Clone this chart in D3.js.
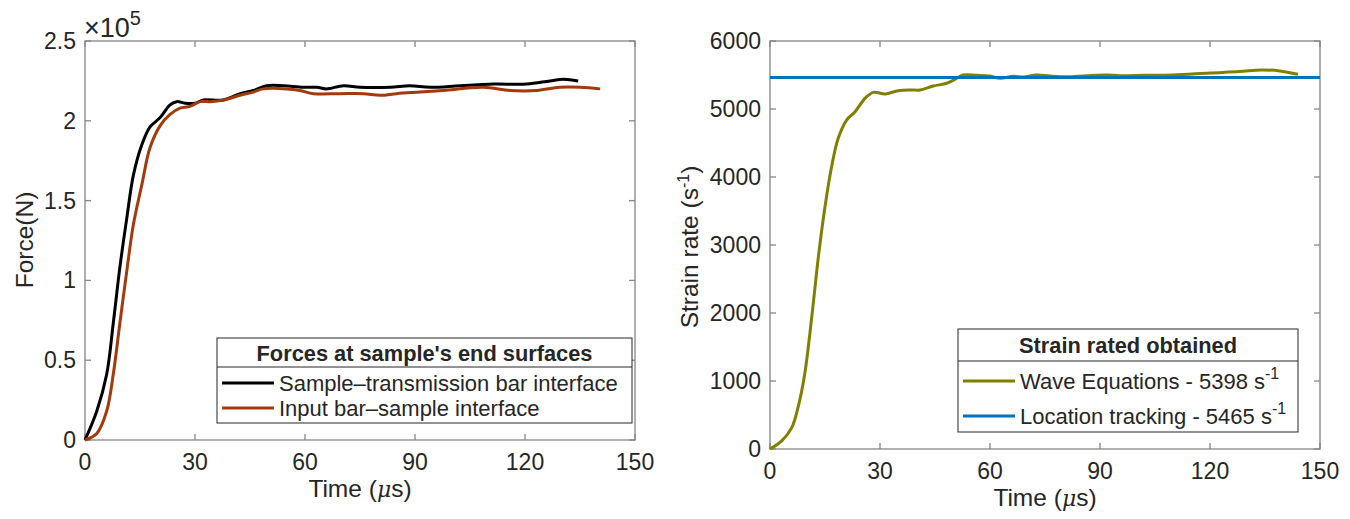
<!DOCTYPE html>
<html>
<head>
<meta charset="utf-8">
<script src="https://cdn.jsdelivr.net/npm/d3@7"></script>
<style>
  body { margin: 0; background: #fff; }
  svg text { font-family: "Liberation Sans", Arial, Helvetica, sans-serif; fill: #262626; }
</style>
</head>
<body>
<svg id="fig" width="1350" height="519"></svg>
<script>
// force at the two sample faces (x1e5 N) vs time (us)
var tBlack = [0,3.2,5.9,7.7,9.5,11.4,13.2,15.5,17.7,20.5,23.2,25,27.3,30,32.3,37.7,42.3,45.9,49.5,54.1,59.5,63.2,65.8,70.5,75,83.2,88.6,94.1,102.3,111.4,120.5,126.8,130.5,134.5];
var fBlack = [0,0.18,0.41,0.73,1.08,1.39,1.66,1.85,1.96,2.02,2.10,2.12,2.11,2.11,2.13,2.13,2.17,2.19,2.22,2.22,2.21,2.21,2.20,2.22,2.21,2.21,2.22,2.21,2.22,2.23,2.23,2.25,2.26,2.25];
var tOrange = [0,3.2,5.9,7.7,9.5,11.4,13.2,15.5,17.7,20.5,23.2,25.9,28.6,31.4,34.1,37.7,42.3,45.9,48.6,55,58.6,62.3,69.5,75.9,80.5,85,91.4,97.7,108.6,115.9,123.2,129.5,135,140.5];
var fOrange = [0,0.04,0.18,0.41,0.73,1.06,1.35,1.60,1.83,1.97,2.04,2.08,2.09,2.12,2.12,2.13,2.16,2.18,2.20,2.20,2.19,2.17,2.17,2.17,2.16,2.17,2.18,2.19,2.21,2.19,2.19,2.21,2.21,2.20];

// strain rate (1/s) vs time (us)
var tRate = [0,3.2,5.9,7.7,9.5,11.4,13.2,15,16.8,18.6,20.9,23.2,25.9,28.2,31.4,35,38.6,40.9,44.5,48.2,50.5,52.7,56.4,60,62.7,66.4,69.1,72.7,76.4,80.9,86.4,91.8,95.5,102,110,120,128,134,139,144];
var rateWave = [0,120,310,622,1113,1946,2828,3563,4151,4569,4838,4960,5157,5245,5221,5269,5279,5279,5338,5378,5437,5500,5495,5485,5451,5480,5470,5500,5485,5475,5490,5500,5490,5495,5500,5530,5550,5575,5560,5510];
var tTrack = [0,150];
var rateTrack = [5465,5465];

var timeTicks = [0,30,60,90,120,150];
var forceTicks = [0,0.5,1,1.5,2,2.5];
var rateTicks = [0,1000,2000,3000,4000,5000,6000];

var svg = d3.select('#fig');
var boxCol = '#868686';

function zip(a,b){ return a.map(function(d,i){ return [d,b[i]]; }); }

function panel(o){
    var x = d3.scaleLinear().domain([0,150]).range([o.left,o.right]);
    var y = d3.scaleLinear().domain(o.ydom).range([o.bottom,o.top]);
    var g = svg.append('g');

    // box
    g.append('rect').attr('x',o.left).attr('y',o.top)
        .attr('width',o.right-o.left).attr('height',o.bottom-o.top)
        .attr('fill','none').attr('stroke',boxCol).attr('stroke-width',1.3);

    // ticks on all four sides, pointing in
    o.xticks.forEach(function(t){
        g.append('line').attr('x1',x(t)).attr('x2',x(t)).attr('y1',o.bottom).attr('y2',o.bottom-6).attr('stroke',boxCol).attr('stroke-width',1.3);
        g.append('line').attr('x1',x(t)).attr('x2',x(t)).attr('y1',o.top).attr('y2',o.top+6).attr('stroke',boxCol).attr('stroke-width',1.3);
        g.append('text').attr('x',x(t)).attr('y',o.bottom+30).attr('text-anchor','middle')
            .style('font-size','23px').text(t);
    });
    o.yticks.forEach(function(t){
        g.append('line').attr('y1',y(t)).attr('y2',y(t)).attr('x1',o.left).attr('x2',o.left+6).attr('stroke',boxCol).attr('stroke-width',1.3);
        g.append('line').attr('y1',y(t)).attr('y2',y(t)).attr('x1',o.right).attr('x2',o.right-6).attr('stroke',boxCol).attr('stroke-width',1.3);
        g.append('text').attr('x',o.left-9).attr('y',y(t)+8).attr('text-anchor','end')
            .style('font-size','23px').text(t);
    });

    var line = d3.line().x(function(d){ return x(d[0]); }).y(function(d){ return y(d[1]); })
        .curve(d3.curveCatmullRom.alpha(0.5));
    o.series.forEach(function(s){
        g.append('path').attr('d',line(zip(s.t,s.v))).attr('fill','none')
            .attr('stroke',s.color).attr('stroke-width',3).attr('stroke-linejoin','round');
    });

    // x title
    var xt = g.append('text').attr('x',(o.left+o.right)/2).attr('y',o.bottom+57)
        .attr('text-anchor','middle').style('font-size','24.5px');
    xt.append('tspan').text('Time (');
    xt.append('tspan').style('font-style','italic').style('font-family','"DejaVu Serif", serif').style('font-size','22px').text('\u03bc');
    xt.append('tspan').text('s)');

    return {x:x, y:y, g:g};
}

// ---- left: forces
var p1 = panel({
    left:85, right:635, top:41, bottom:440, ydom:[0,2.5],
    xticks:timeTicks, yticks:forceTicks,
    series:[{t:tBlack,v:fBlack,color:'#000000'},{t:tOrange,v:fOrange,color:'#A33A0D'}]
});
svg.append('text').attr('transform','translate(33,240) rotate(-90)')
    .attr('text-anchor','middle').style('font-size','24.5px').text('Force(N)');
var ex = svg.append('text').attr('x',84).attr('y',37);
ex.append('tspan').style('font-size','27px').text('\u00d710');
ex.append('tspan').attr('dy',-12).style('font-size','20px').text('5');

// ---- right: strain rate
var p2 = panel({
    left:770, right:1320, top:41, bottom:449, ydom:[0,6000],
    xticks:timeTicks, yticks:rateTicks,
    series:[{t:tRate,v:rateWave,color:'#808000'},{t:tTrack,v:rateTrack,color:'#0072BD'}]
});
var yr = svg.append('text').attr('transform','translate(698,247) rotate(-90)')
    .attr('text-anchor','middle').style('font-size','24.5px');
yr.append('tspan').text('Strain rate (s');
yr.append('tspan').attr('dy',-9).style('font-size','16px').text('-1');
yr.append('tspan').attr('dy',9).text(')');

// ---- legends
function legend(o){
    var g = svg.append('g');
    g.append('rect').attr('x',o.x).attr('y',o.y).attr('width',o.w).attr('height',o.h)
        .attr('fill','#fff').attr('stroke','#262626').attr('stroke-width',1);
    g.append('line').attr('x1',o.x).attr('x2',o.x+o.w).attr('y1',o.sep).attr('y2',o.sep)
        .attr('stroke','#262626').attr('stroke-width',1);
    g.append('text').attr('x',o.x+o.w/2).attr('y',o.titleY).attr('text-anchor','middle')
        .style('font-size','21.8px').style('font-weight','bold').text(o.title);
    o.rows.forEach(function(r,i){
        var yy = o.rowY[i];
        g.append('line').attr('x1',o.x+5).attr('x2',o.x+57).attr('y1',yy).attr('y2',yy)
            .attr('stroke',r.color).attr('stroke-width',3);
        var t = g.append('text').attr('x',o.x+62).attr('y',yy+8).style('font-size','22px');
        t.append('tspan').text(r.label);
        if (r.sup) t.append('tspan').attr('dy',-10).style('font-size','16px').text(r.sup);
    });
}

legend({x:217, y:338, w:415, h:85, sep:367, titleY:361, rowY:[383,408],
    title:"Forces at sample's end surfaces",
    rows:[{label:'Sample\u2013transmission bar interface',color:'#000000'},
          {label:'Input bar\u2013sample interface',color:'#A33A0D'}]});

legend({x:958, y:329, w:340, h:103, sep:361, titleY:353, rowY:[381,416],
    title:'Strain rated obtained',
    rows:[{label:'Wave Equations - 5398 s',sup:'-1',color:'#808000'},
          {label:'Location tracking - 5465 s',sup:'-1',color:'#0072BD'}]});
</script>
</body>
</html>
